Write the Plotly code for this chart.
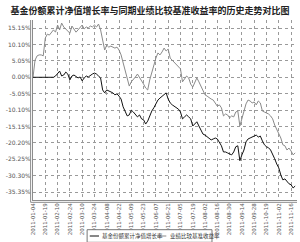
import plotly.graph_objects as go

# ---- data (percent) ----
fund_nav_growth = [
    0.0, 0.0, 0.0, 0.0, 0.0, 0.0, 0.0, 0.0, 0.0, 0.0, 0.0,
    0.4, 1.0, 1.9, 0.4, 0.7, 1.6, 1.0, -0.8, 0.4, 0.7,
    0.1, -0.2, 0.1, -1.1, -0.2, 0.4, 0.1, 0.7, 1.0, 1.3,
    1.0, 0.4, -0.2, -3.9, -4.8, -3.9, -4.2, -4.5, -4.8, -5.4,
    -5.1, -5.8, -6.7, -9.1, -10.7, -11.9, -11.6, -10.1, -10.7, -11.3,
    -12.2, -11.6, -12.8, -13.1, -14.4, -13.5, -11.6, -10.4, -9.4, -8.2,
    -7.0, -6.4, -5.8, -5.1, -4.8, -6.7, -7.9, -8.5, -8.9, -9.4,
    -9.8, -10.7, -12.8, -12.2, -11.6, -12.2, -12.8, -15.0, -14.4, -13.7,
    -15.0, -16.5, -17.5, -17.8, -18.4, -18.7, -19.3, -19.0, -18.7, -19.0,
    -19.9, -21.1, -23.0, -23.0, -23.3, -23.6, -23.9, -23.0, -21.4, -21.1,
    -25.7, -23.9, -22.4, -19.9, -19.0, -18.7, -18.4, -18.1, -17.8, -18.4,
    -18.1, -19.6, -20.8, -21.4, -21.7, -22.4, -23.6, -25.1, -26.7, -27.9,
    -30.1, -31.6, -31.3, -32.2, -32.8, -33.1, -34.1, -33.5,
]
benchmark_return = [
    0.0, 5.3, 6.6, 6.9, 6.9, 6.6, 12.1, 13.3, 13.0, 13.9, 14.6,
    13.9, 16.1, 14.6, 16.7, 15.5, 14.9, 14.2, 13.6, 15.8, 14.9,
    13.9, 14.6, 15.5, 16.1, 14.9, 15.5, 15.2, 15.8, 15.5, 16.1,
    15.5, 16.4, 14.6, 10.9, 8.4, 9.9, 9.3, 9.6, 9.3, 9.0,
    9.3, 8.4, 6.9, 4.4, 2.2, -0.8, -2.7, -1.4, -0.8, 0.1,
    1.0, 0.1, -1.1, -2.1, -3.3, -3.9, -0.8, 1.6, 4.1, 5.9,
    7.5, 6.9, 7.8, 9.0, 8.1, 8.7, 5.9, 5.3, 4.4, 4.1,
    3.5, 2.6, -1.4, -0.5, 0.4, -0.2, -2.1, -3.0, -1.4, -0.2,
    -1.4, -2.7, -3.9, -5.4, -5.8, -6.4, -6.7, -7.0, -7.9, -8.9,
    -8.5, -9.4, -11.9, -11.3, -11.6, -12.5, -11.9, -12.2, -10.7, -10.4,
    -15.0, -12.5, -10.7, -8.2, -7.0, -7.3, -7.9, -7.6, -8.5, -7.3,
    -7.9, -10.4, -10.7, -11.0, -11.3, -11.9, -12.8, -14.7, -15.9, -17.1,
    -18.7, -20.8, -21.1, -22.4, -21.8, -22.7, -23.9, -23.3,
]
x_tick_labels = [
    "2011-01-04", "2011-01-19", "2011-02-10", "2011-02-24", "2011-03-10",
    "2011-03-24", "2011-04-08", "2011-04-22", "2011-05-09", "2011-05-23",
    "2011-06-07", "2011-06-21", "2011-07-05", "2011-07-19", "2011-08-02",
    "2011-08-16", "2011-08-30", "2011-09-14", "2011-09-28", "2011-10-19",
    "2011-11-02", "2011-11-16",
]
y_tick_values = [15.15, 10.10, 5.05, 0.00, -5.05, -10.10, -15.15, -20.20, -25.25, -30.30, -35.35]
y_tick_labels = ["15.15%", "10.10%", "5.05%", "0.00%", "-5.05%", "-10.10%",
                 "-15.15%", "-20.20%", "-25.25%", "-30.30%", "-35.35%"]
series_names = ["基金份额累计净值增长率", "业绩比较基准收益率"]
title_text = "基金份额累计净值增长率与同期业绩比较基准收益率的历史走势对比图"

TICK_STEP = 6
x_idx = list(range(len(fund_nav_growth)))
x_tick_pos = [i * TICK_STEP for i in range(len(x_tick_labels))]

CJK = "Noto Sans CJK SC"
GRID = "#9a9a9a"
AXIS = "#8c8c8c"

fig = go.Figure()
fig.add_trace(go.Scatter(x=x_idx, y=benchmark_return, mode="lines", name=series_names[1],
                         line=dict(color="#8a8a8a", width=1), showlegend=False))
fig.add_trace(go.Scatter(x=x_idx, y=fund_nav_growth, mode="lines", name=series_names[0],
                         line=dict(color="#111111", width=1), showlegend=False))

fig.update_layout(
    width=300, height=242,
    margin=dict(l=33, r=3, t=20, b=42),
    paper_bgcolor="white", plot_bgcolor="white",
    title=dict(text="<b>" + title_text + "</b>", x=0.5, xanchor="center", y=0.955, yanchor="middle",
               font=dict(family=CJK, size=9, color="#222222")),
    font=dict(family=CJK, color="#444444"),
    showlegend=False,
)
fig.update_xaxes(
    range=[0, 128.9], tickmode="array", tickvals=x_tick_pos, ticktext=x_tick_labels,
    tickangle=-90, tickfont=dict(size=5.5, family="DejaVu Sans", color="#555555"),
    showgrid=True, gridcolor=GRID, griddash="dot", gridwidth=1,
    showline=True, linecolor=AXIS, linewidth=1, ticks="", zeroline=False,
)
fig.update_yaxes(
    range=[-37.8, 17.65], tickmode="array", tickvals=y_tick_values, ticktext=y_tick_labels,
    tickfont=dict(size=6, family="DejaVu Sans", color="#555555"),
    showgrid=True, gridcolor=GRID, griddash="dot", gridwidth=1,
    showline=True, linecolor=AXIS, linewidth=1, ticks="", zeroline=False,
)

# double axis lines
fig.add_shape(type="line", xref="paper", yref="paper", x0=-0.009, x1=-0.009, y0=-0.013, y1=1,
              line=dict(color=AXIS, width=1))
fig.add_shape(type="line", xref="paper", yref="paper", x0=-0.009, x1=1, y0=-0.013, y1=-0.013,
              line=dict(color=AXIS, width=1))

# manual legend
lg_y = -0.2
fig.add_shape(type="rect", xref="paper", yref="paper", x0=0.205, x1=0.678, y0=-0.235, y1=-0.165,
              line=dict(color="#777777", width=1), fillcolor="white")
fig.add_shape(type="line", xref="paper", yref="paper", x0=0.215, x1=0.25, y0=lg_y, y1=lg_y,
              line=dict(color="#111111", width=1))
fig.add_annotation(xref="paper", yref="paper", x=0.255, y=lg_y, text=series_names[0],
                   showarrow=False, xanchor="left", yanchor="middle",
                   font=dict(family=CJK, size=5.5, color="#333333"))
fig.add_shape(type="line", xref="paper", yref="paper", x0=0.47, x1=0.505, y0=lg_y, y1=lg_y,
              line=dict(color="#8a8a8a", width=1))
fig.add_annotation(xref="paper", yref="paper", x=0.51, y=lg_y, text=series_names[1],
                   showarrow=False, xanchor="left", yanchor="middle",
                   font=dict(family=CJK, size=5.5, color="#333333"))

fig.write_html("out.html")
